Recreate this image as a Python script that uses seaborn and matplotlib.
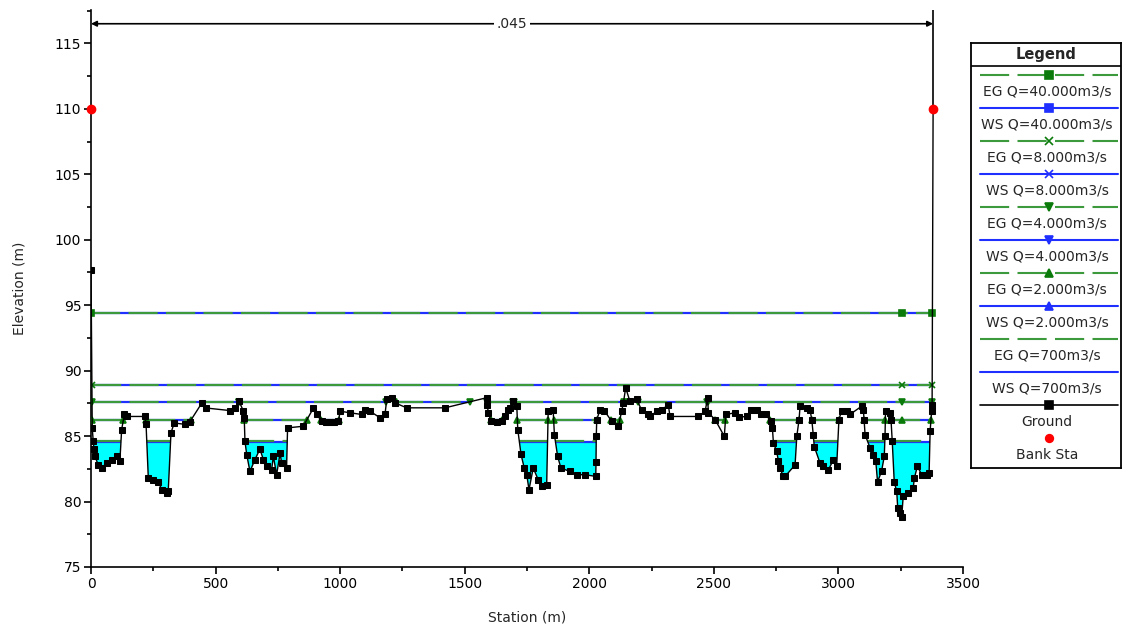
import numpy as np
import pandas as pd
import matplotlib
matplotlib.use("Agg")
import matplotlib.pyplot as plt
from matplotlib.ticker import MultipleLocator
import seaborn as sns

# ---------------- data ----------------
ground_sta = [0, 5, 9, 12, 16, 29, 43, 63, 83, 103, 116, 123, 134, 143, 217, 221, 230, 250, 270, 284,
              304, 310, 321, 334, 377, 397, 444, 460, 558, 578, 594, 612, 615, 618, 625, 638, 658, 678,
              692, 705, 725, 732, 745, 759, 765, 785, 789, 852, 893, 906, 926, 945, 960, 975, 993, 1000,
              1040, 1087, 1100, 1120, 1160, 1180, 1187, 1207, 1220, 1267, 1421, 1588, 1590, 1595, 1605,
              1628, 1648, 1662, 1675, 1682, 1695, 1709, 1713, 1726, 1739, 1749, 1758, 1775, 1795, 1809,
              1829, 1835, 1855, 1860, 1873, 1886, 1922, 1949, 1983, 2026, 2027, 2028, 2030, 2043, 2060,
              2090, 2117, 2130, 2137, 2146, 2163, 2190, 2210, 2234, 2244, 2271, 2291, 2317, 2324, 2438,
              2465, 2475, 2478, 2505, 2542, 2548, 2585, 2600, 2632, 2649, 2672, 2689, 2708, 2729, 2735,
              2739, 2752, 2759, 2765, 2779, 2786, 2826, 2833, 2842, 2846, 2873, 2886, 2893, 2899, 2903,
              2926, 2940, 2960, 2980, 2993, 3002, 3013, 3033, 3046, 3093, 3100, 3103, 3107, 3127, 3140,
              3150, 3157, 3173, 3184, 3187, 3189, 3207, 3211, 3216, 3224, 3234, 3238, 3247, 3254, 3260,
              3280, 3300, 3305, 3317, 3334, 3354, 3364, 3368, 3374, 3376, 3380]
ground_elev = [97.7, 85.6, 84.6, 84.0, 83.45, 82.8, 82.56, 82.95, 83.2, 83.45, 83.1, 85.5, 86.65, 86.5,
               86.5, 85.9, 81.8, 81.67, 81.5, 80.9, 80.65, 80.77, 85.25, 86.0, 85.9, 86.1, 87.5, 87.15,
               86.95, 87.15, 87.67, 86.9, 86.4, 84.6, 83.58, 82.3, 83.2, 84.0, 83.2, 82.7, 82.43, 83.45,
               82.05, 83.7, 82.95, 82.56, 85.63, 85.75, 87.15, 86.65, 86.13, 86.05, 86.1, 86.05, 86.13,
               86.9, 86.78, 86.65, 87.0, 86.9, 86.4, 86.65, 87.8, 87.93, 87.54, 87.16, 87.16, 87.93, 87.4,
               86.78, 86.13, 86.05, 86.13, 86.5, 87.0, 87.15, 87.67, 87.28, 85.5, 83.6, 82.56, 82.05,
               80.9, 82.56, 81.67, 81.15, 81.28, 86.9, 87.0, 85.1, 83.45, 82.56, 82.3, 82.05, 82.05,
               81.92, 83.0, 84.98, 86.26, 87.0, 86.95, 86.13, 85.75, 86.9, 87.54, 88.69, 87.67, 87.8,
               87.0, 86.65, 86.5, 86.9, 87.0, 87.4, 86.5, 86.5, 86.9, 87.93, 86.78, 86.26, 84.98, 86.65,
               86.78, 86.45, 86.5, 87.0, 87.0, 86.65, 86.65, 86.13, 85.63, 84.48, 83.84, 83.12, 82.56,
               81.92, 81.92, 82.8, 85.0, 86.26, 87.28, 87.16, 87.0, 86.26, 85.1, 84.2, 82.95, 82.7, 82.43,
               83.2, 82.7, 86.26, 86.95, 86.9, 86.65, 87.28, 87.0, 86.26, 85.1, 84.1, 83.58, 83.07, 81.5,
               82.3, 83.45, 85.0, 86.9, 86.78, 86.26, 84.6, 81.5, 80.77, 79.5, 79.1, 78.85, 80.4, 80.65,
               81.03, 81.8, 82.7, 82.05, 82.05, 82.18, 85.37, 86.9, 87.4, 110.0]

bank_sta = [0, 3380]
bank_elev = [110.0, 110.0]

profiles = ["Q=40.000m3/s", "Q=8.000m3/s", "Q=4.000m3/s", "Q=2.000m3/s", "Q=700m3/s"]
ws_elev = [94.39, 88.87, 87.62, 86.21, 84.58]
eg_elev = [94.40, 88.88, 87.63, 86.22, 84.59]
profile_markers = ["s", "x", "v", "^", None]
label_sta = 3255          # station where HEC-RAS puts its profile label marker
n_value = ".045"

# ---------------- style ----------------
sns.set_theme(style="white")
plt.rcParams["font.family"] = ["DejaVu Sans"]
plt.rcParams["lines.scale_dashes"] = False

GREEN = "#3c9a3c"
GREEN_M = "#0a7a0a"
BLUE = "#1f2fff"
CYAN = "#00ffff"

df = pd.DataFrame({"Station": ground_sta, "Elevation": ground_elev})
x = np.asarray(ground_sta, float)
z = np.asarray(ground_elev, float)


def wet_segments(level):
    segs = []
    start = x[0] if z[0] < level else None
    for i in range(len(x) - 1):
        a, b = z[i] < level, z[i + 1] < level
        if a != b:
            t = (level - z[i]) / (z[i + 1] - z[i])
            xc = x[i] + t * (x[i + 1] - x[i])
            if b:
                start = xc
            else:
                segs.append((start, xc))
                start = None
    if start is not None:
        segs.append((start, x[-1]))
    return segs


fig = plt.figure(figsize=(11.25, 6.3), dpi=100)
ax = fig.add_axes([91 / 1125, 63 / 630, 872 / 1125, 557 / 630])
ax.set_xlim(0, 3500)
ax.set_ylim(75, 117.55)

# cyan fill for lowest profile
lvl = ws_elev[-1]
ax.fill_between(x, z, lvl, where=z < lvl, interpolate=True, color=CYAN, lw=0, zorder=1)

# water surface / energy grade lines
for name, ws, eg, mk in zip(profiles, ws_elev, eg_elev, profile_markers):
    for (s0, s1) in wet_segments(ws):
        ax.plot([s0, s1], [ws, ws], color=BLUE, lw=1.6, zorder=2, solid_capstyle="butt")
    for (s0, s1) in wet_segments(eg):
        ln, = ax.plot([s0, s1], [eg, eg], color=GREEN, lw=1.6, zorder=3, dash_capstyle="butt")
        ln.set_dashes([21, 6])
        if mk is not None:
            pts = [s0, s1] + ([label_sta] if s0 < label_sta < s1 else [])
            ax.plot(pts, [eg] * len(pts), ls="none", marker=mk, color=GREEN_M, ms=5,
                    mew=1.2, zorder=4)

# ground
sns.lineplot(data=df, x="Station", y="Elevation", ax=ax, sort=False, estimator=None,
             color="black", lw=1.0, marker="s", markersize=5, markeredgecolor="black",
             markerfacecolor="black", zorder=5, legend=False)
# bank stations
ax.plot(bank_sta, bank_elev, ls="none", marker="o", color="red", ms=6, zorder=6, clip_on=False)

# Manning's n annotation
ytop = ax.get_ylim()[1]
yarr = 116.5
ax.vlines(bank_sta[1], bank_elev[1], ytop, color="black", lw=1.2, zorder=5)
ax.annotate("", xy=(bank_sta[0], yarr), xytext=(bank_sta[1], yarr),
            arrowprops=dict(arrowstyle="<|-|>", color="black", lw=1.2,
                            mutation_scale=8, shrinkA=0, shrinkB=0))
ax.text((bank_sta[0] + bank_sta[1]) / 2, yarr, n_value, ha="center", va="center", fontsize=10,
        bbox=dict(facecolor="white", edgecolor="none", pad=2), zorder=7)

# axes styling
for s in ["top", "right"]:
    ax.spines[s].set_visible(False)
for s in ["left", "bottom"]:
    ax.spines[s].set_color("black")
    ax.spines[s].set_linewidth(1.2)
ax.xaxis.set_major_locator(MultipleLocator(500))
ax.xaxis.set_minor_locator(MultipleLocator(250))
ax.yaxis.set_major_locator(MultipleLocator(5))
ax.yaxis.set_minor_locator(MultipleLocator(2.5))
ax.tick_params(which="major", direction="out", length=5, width=1.2, color="black",
               labelsize=10, labelcolor="black", bottom=True, left=True, pad=2)
ax.tick_params(which="minor", direction="out", length=3, width=1.2, color="black",
               bottom=True, left=True)
ax.set_xlabel("Station (m)", fontsize=10, labelpad=14)
ax.set_ylabel("Elevation (m)", fontsize=10, labelpad=20)

# ---------------- legend (HEC-RAS style box) ----------------
lax = fig.add_axes([971 / 1125, 1 - 468 / 630, 150 / 1125, 425 / 630])
lax.set_xlim(0, 150)
lax.set_ylim(425, 0)
lax.set_xticks([])
lax.set_yticks([])
for s in lax.spines.values():
    s.set_color("black")
    s.set_linewidth(1.3)
lax.set_facecolor("white")
lax.text(75, 11, "Legend", ha="center", va="center", fontsize=10.5, fontweight="bold")
lax.plot([0, 150], [23, 23], color="black", lw=1.2)

entries = []
for name, mk in zip(profiles, profile_markers):
    entries.append(("EG " + name, "eg", mk))
    entries.append(("WS " + name, "ws", mk))
entries.append(("Ground", "ground", "s"))
entries.append(("Bank Sta", "bank", "o"))

y0 = 32
step = 33
for i, (lab, kind, mk) in enumerate(entries):
    yl = y0 + i * step
    if kind == "eg":
        ln, = lax.plot([9, 147], [yl, yl], color=GREEN, lw=1.5, dash_capstyle="butt")
        ln.set_dashes([21, 6])
        mc = GREEN_M
    elif kind == "ws":
        lax.plot([9, 147], [yl, yl], color=BLUE, lw=1.5)
        mc = BLUE
    elif kind == "ground":
        lax.plot([9, 147], [yl, yl], color="black", lw=1.2)
        mc = "black"
    else:
        mc = "red"
    if mk is not None:
        lax.plot([78], [yl], ls="none", marker=mk, color=mc, ms=5.5, mew=1.2)
    lax.text(76, yl + 16.5, lab, ha="center", va="center", fontsize=10)

fig.savefig("out.png", dpi=100)
